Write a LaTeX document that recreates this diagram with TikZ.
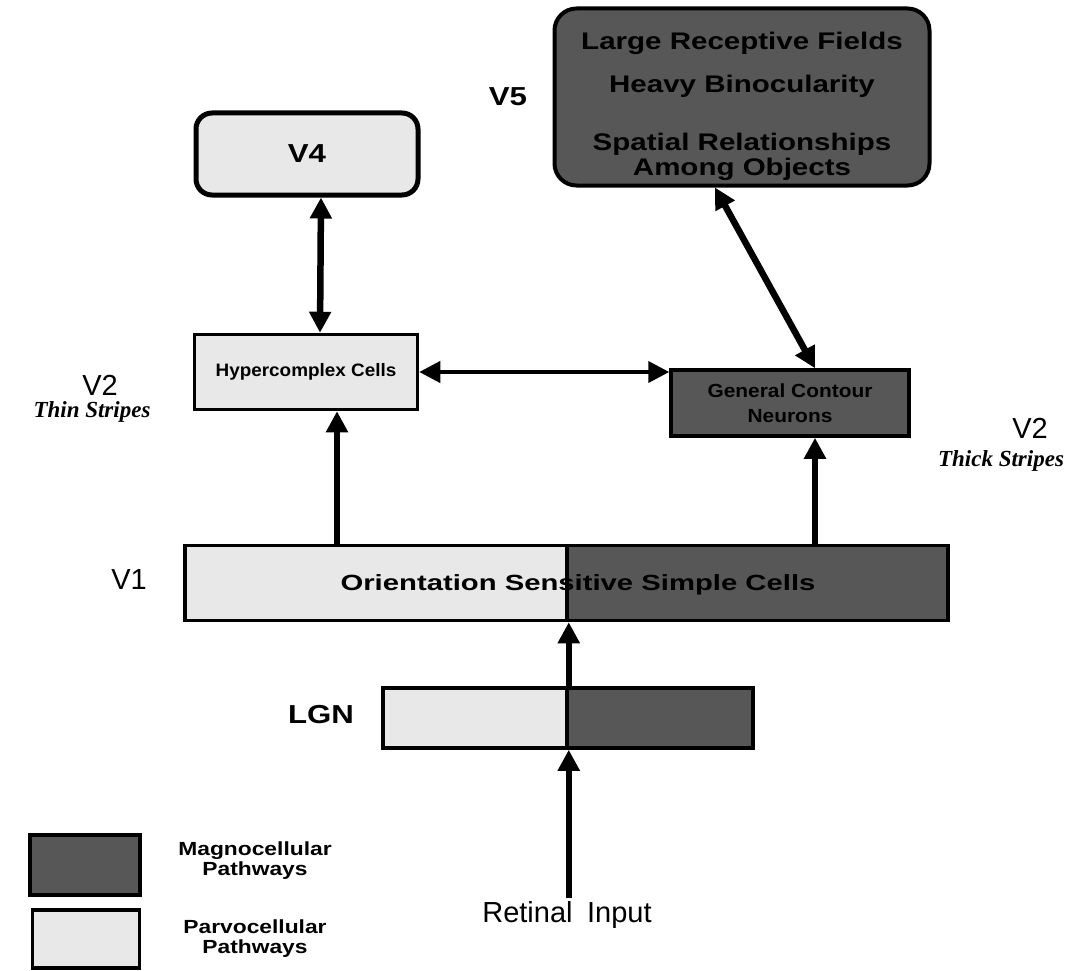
\documentclass[tikz,border=0pt]{standalone}
\usepackage{fontspec}
\setmainfont{Liberation Sans}
\newfontfamily\stripefont{Liberation Serif}
\usetikzlibrary{arrows.meta}
% bold sans, set wide
\newcommand\widebold[3]{\bfseries\fontsize{#1}{#2}\selectfont\addfontfeature{FakeStretch=#3}}
\begin{document}
\begin{tikzpicture}[x=1pt,y=-1pt,
  darkbox/.style={draw=black, line width=3.5pt, fill=black!66, inner sep=0pt, align=center},
  lightbox/.style={draw=black, line width=3.5pt, fill=black!9, inner sep=0pt, align=center},
  side/.style={font=\fontsize{29}{31}\selectfont},
  sidebold/.style={font=\widebold{26}{28}{1.2}},
  stripe/.style={font=\stripefont\bfseries\itshape\fontsize{23}{25}\selectfont},
  legendtext/.style={font=\widebold{19}{20}{1.2}, align=center},
  biarrow/.style={line width=6.5pt, {Triangle[length=21pt,width=21pt]}-{Triangle[length=21pt,width=21pt]}},
  uparrow/.style={line width=6.5pt, -{Triangle[length=21pt,width=21pt]}},
]
\useasboundingbox (0,0) rectangle (1068,971);

% higher areas
\node[lightbox, rounded corners=16pt, line width=5pt, minimum width=222pt, minimum height=82pt,
      font=\widebold{26}{28}{1.2}] (v4) at (307,154) {V4};
\node[darkbox, rounded corners=22pt, line width=4pt, minimum width=375pt, minimum height=177pt] (v5) at (742,97) {};
\node[font=\widebold{24}{25}{1.23}] (v5a) at (742,43) {Large Receptive Fields};
\node[font=\widebold{24}{25}{1.23}] (v5b) at (742,86) {Heavy Binocularity};
\node[font=\widebold{24}{25}{1.23}, align=center] (v5c) at (742,157) {Spatial Relationships\\Among Objects};
\node[sidebold] (v5lbl) at (508,97) {V5};

% V2
\node[lightbox, minimum width=223pt, minimum height=75pt] (hyper) at (306,372) {};
\node[font=\widebold{18}{20}{1.05}] (hypertext) at (hyper) {Hypercomplex Cells};
\node[darkbox, minimum width=238pt, minimum height=66pt] (gc) at (790,403) {};
\node[font=\widebold{19}{25}{1.1}, align=center] (gctext) at (gc) {General Contour\\Neurons};
\node[side] (v2l) at (100,385) {V2};
\node[stripe] (thin) at (92,412) {Thin Stripes};
\node[side] (v2r) at (1030,428) {V2};
\node[stripe] (thick) at (1001,461) {Thick Stripes};

% V1, split into its two halves
\node[lightbox, minimum width=382pt, minimum height=75pt] (v1l) at (376,583) {};
\node[darkbox, minimum width=381pt, minimum height=75pt] (v1r) at (757.5,583) {};
\node[font=\widebold{22}{24}{1.33}] (v1text) at (578,585) {Orientation Sensitive Simple Cells};
\node[side] (v1lbl) at (129,580) {V1};

% LGN, split into its two halves
\node[lightbox, minimum width=184pt, minimum height=60pt] (lgnl) at (475,718) {};
\node[darkbox, minimum width=186pt, minimum height=60pt] (lgnr) at (660,718) {};
\node[sidebold] (lgnlbl) at (321,715) {LGN};

% input
\node[side] (ret) at (567,915) {Retinal\enspace Input};

% legend
\node[darkbox, minimum width=110pt, minimum height=60pt] (magbox) at (85,865) {};
\node[legendtext] (magtext) at (255,861) {Magnocellular\\Pathways};
\node[lightbox, minimum width=107pt, minimum height=58pt] (parbox) at (86,939) {};
\node[legendtext] (partext) at (255,939) {Parvocellular\\Pathways};

% connections
\draw[biarrow] ([xshift=14pt]v4.south) -- ([xshift=14pt]hyper.north);
\draw[biarrow] ([xshift=-27pt]v5.south) -- ([xshift=25pt]gc.north);
\draw[biarrow, line width=4pt] (hyper.east) -- (hyper.east -| gc.west);
\draw[uparrow] ([xshift=31pt]hyper.south |- v1l.north) -- ([xshift=31pt]hyper.south);
\draw[uparrow] ([xshift=25pt]gc.south |- v1r.north) -- ([xshift=25pt]gc.south);
\draw[uparrow] (lgnl.north east) -- (v1l.south east);
\draw[uparrow] (ret.north -| lgnl.south east) -- (lgnl.south east);
\end{tikzpicture}
\end{document}
